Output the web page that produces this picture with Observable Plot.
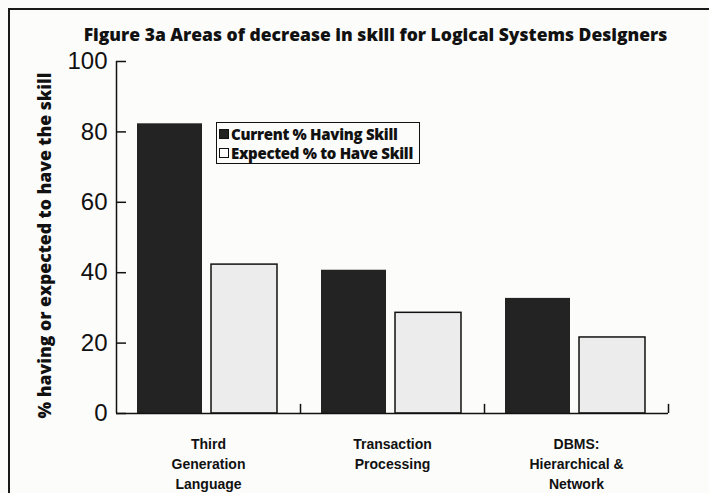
<!DOCTYPE html>
<html>
<head>
<meta charset="utf-8">
<script src="https://cdn.jsdelivr.net/npm/d3@7"></script>
<script src="https://cdn.jsdelivr.net/npm/@observablehq/plot@0.6"></script>
<style>
  html, body { margin: 0; padding: 0; background: #fcfcfb; }
  #wrap { position: relative; width: 709px; height: 493px; overflow: hidden; }
  #box { position: absolute; left: 8px; top: 8px; width: 720px; height: 500px;
         border-top: 2px solid #1a1a1a; border-left: 2px solid #1a1a1a; pointer-events: none; }
  #legend { position: absolute; left: 216px; top: 122px; width: 204px; height: 42px;
            border: 1.5px solid #111; background: #fcfcfb; box-sizing: border-box;
            font-family: "Open Sans", Lato, sans-serif; font-weight: 800; font-size: 15px; color: #111;
            padding: 1px 0 0 2px; letter-spacing: -0.3px; }
  #legend .row { display: flex; align-items: center; height: 19px; white-space: nowrap; }
  #legend .sw { width: 10px; height: 10px; box-sizing: border-box; border: 1px solid #111; margin-right: 2px; }
</style>
</head>
<body>
<div id="wrap">
  <div id="box"></div>
  <div id="legend"></div>
</div>
<script>
const title = "Figure 3a Areas of decrease in skill for Logical Systems Designers";
const yLabel = "% having or expected to have the skill";
const categories = ["Third\nGeneration\nLanguage", "Transaction\nProcessing", "DBMS:\nHierarchical &\nNetwork"];
const seriesNames = ["Current % Having Skill", "Expected % to Have Skill"];
const currentValues = [82.3, 40.7, 32.7];
const expectedValues = [42.3, 28.6, 21.6];
const yTicks = [0, 20, 40, 60, 80, 100];
const seriesFill = ["#232323", "#ececec"];

const currentRows = categories.map((c, i) => ({category: c, value: currentValues[i]}));
const expectedRows = categories.map((c, i) => ({category: c, value: expectedValues[i]}));

const W = 709, H = 493, mL = 116, mR = 41, mT = 61, mB = 80;
const band = (W - mL - mR) / categories.length;
const heavy = "'Open Sans', Lato, sans-serif";

const chart = Plot.plot({
  width: W, height: H,
  marginLeft: mL, marginRight: mR, marginTop: mT, marginBottom: mB,
  style: {background: "transparent", color: "#111"},
  x: {domain: categories, padding: 0, axis: null},
  y: {domain: [0, 100], axis: null},
  marks: [
    Plot.barY(currentRows, {x: "category", y: "value", fill: seriesFill[0],
      insetLeft: 21, insetRight: band - 86}),
    Plot.barY(expectedRows, {x: "category", y: "value", fill: seriesFill[1],
      stroke: "#111", strokeWidth: 1.5, insetLeft: 95, insetRight: band - 161}),
    Plot.ruleY([0], {stroke: "#111", strokeWidth: 1.5}),
    Plot.ruleX([categories[0]], {x: d => d, dx: -band / 2, y1: 0, y2: 100, stroke: "#111", strokeWidth: 1.5}),
    Plot.ruleX(categories, {x: d => d, dx: band / 2, y1: 0, y2: 2.6, stroke: "#111", strokeWidth: 1.5}),
    Plot.axisY({ticks: yTicks, tickSize: -10, tickPadding: 19, tickFormat: d => String(d),
      fontSize: 24, fontFamily: "'Liberation Sans', Arial, sans-serif", strokeWidth: 1.5, label: null}),
    Plot.axisX({tickSize: 0, tickPadding: 21, lineHeight: 1.44, fontSize: 14, fontWeight: "bold",
      fontFamily: "'Liberation Sans', Arial, sans-serif", label: null, lineAnchor: "top"}),
    Plot.text([yLabel], {frameAnchor: "left", text: d => d, rotate: -90, dx: -71, dy: 8,
      textAnchor: "middle", fontSize: 17.6, fontWeight: 800, fontFamily: heavy}),
    Plot.text([title], {frameAnchor: "top", text: d => d, dx: -17, dy: -33,
      fontSize: 17.5, fontWeight: 800, fontFamily: heavy})
  ]
});
document.getElementById("wrap").prepend(chart);

const legend = d3.select("#legend");
seriesNames.forEach((name, i) => {
  const row = legend.append("div").attr("class", "row");
  row.append("div").attr("class", "sw").style("background", i === 0 ? seriesFill[0] : "#fff");
  row.append("span").text(name);
});
</script>
</body>
</html>
